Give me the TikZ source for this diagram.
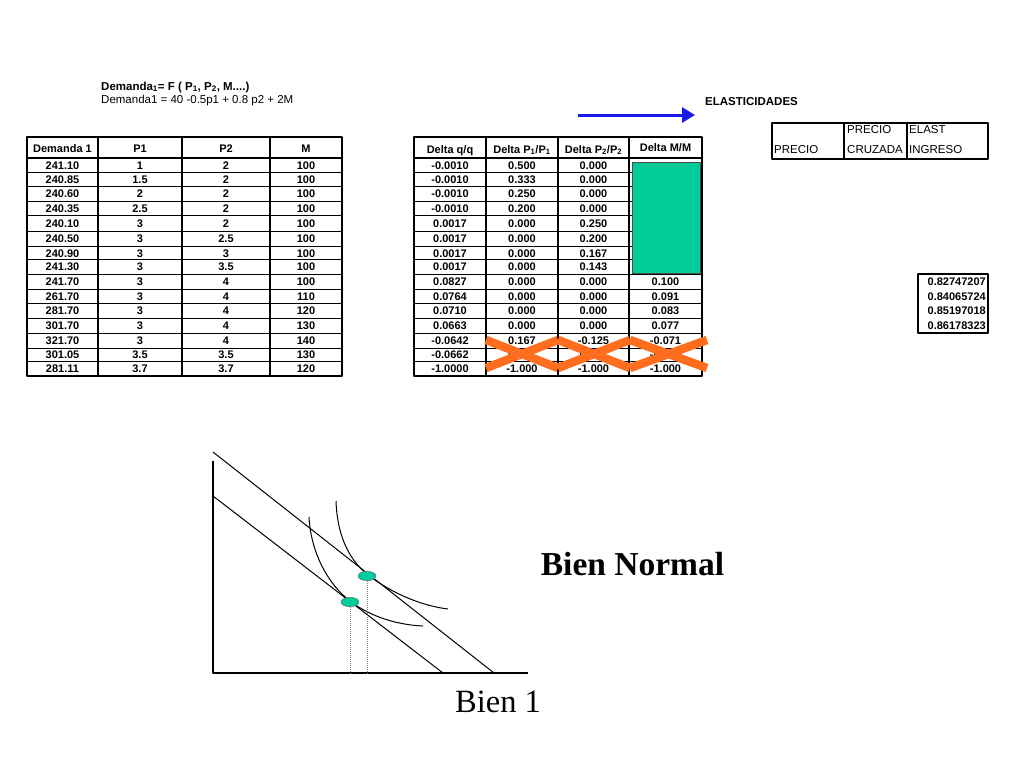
\documentclass[tikz,border=0pt]{standalone}
\usepackage{fontspec}
\setmainfont{Liberation Serif}
\setsansfont{Liberation Sans}
\usetikzlibrary{arrows.meta,shapes.geometric}
\definecolor{verde}{RGB}{0,204,153}
\definecolor{naranja}{RGB}{255,110,30}
\definecolor{azul}{RGB}{25,25,235}
\begin{document}
\begin{tikzpicture}[x=1pt,y=-1pt,line join=round,>=Triangle]
\tikzset{celda/.style={font=\sffamily\bfseries\fontsize{11}{12}\selectfont,inner sep=0pt,anchor=base},
  plano/.style={font=\sffamily\fontsize{11.5}{12}\selectfont,inner sep=0pt,anchor=base west},
  punto/.style={ellipse,draw=black!60,fill=verde,minimum width=18pt,minimum height=9.5pt,inner sep=0pt}}
\useasboundingbox (0,0) rectangle (1024,768);
% encabezado
\node[plano,font=\sffamily\bfseries\fontsize{11.5}{12}\selectfont] (titulo) at (101,90) {Demanda\textsubscript{1}= F ( P\textsubscript{1}, P\textsubscript{2}, M....)};
\node[plano] (ecuacion) at (101,103.5) {Demanda1 = 40 -0.5p1 + 0.8 p2 + 2M};
\node[plano,font=\sffamily\bfseries\fontsize{11.5}{12}\selectfont] (elast) at (705,105) {ELASTICIDADES};
\draw[azul,line width=3pt,-{Triangle[length=13pt,width=15pt]}] (578,115) -- (695,115);
% tablas
\draw[line width=1.6pt] (27,137) rectangle (342,376) (27,158) -- (342,158);
\draw[line width=1.6pt] (414,137) rectangle (702,376) (414,158) -- (702,158);
\foreach \x in {98,182,270} \draw[line width=1.2pt] (\x,137) -- (\x,376);
\foreach \x in {486,558,629} \draw[line width=1.2pt] (\x,137) -- (\x,376);
\node[celda] (hdem) at (62.5,152) {Demanda 1};
\node[celda] (hpa) at (140,152) {P1};
\node[celda] (hpb) at (226,152) {P2};
\node[celda] (hm) at (306,152) {M};
\node[celda] (hdq) at (450,153) {Delta q/q};
\node[celda] (hdpa) at (522,153) {Delta P\textsubscript{1}/P\textsubscript{1}};
\node[celda] (hdpb) at (593.5,153) {Delta P\textsubscript{2}/P\textsubscript{2}};
\node[celda] (hdm) at (665.5,151) {Delta M/M};
\foreach \yc/\yb/\d/\pa/\pb/\m/\dq/\dpa/\dpb/\dm [count=\i] in {
  165/172/241.10/1/2/100/-0.0010/0.500/0.000/{},
  179/186/240.85/1.5/2/100/-0.0010/0.333/0.000/{},
  193.5/201/240.60/2/2/100/-0.0010/0.250/0.000/{},
  208/215.5/240.35/2.5/2/100/-0.0010/0.200/0.000/{},
  223/231/240.10/3/2/100/0.0017/0.000/0.250/{},
  238.5/246/240.50/3/2.5/100/0.0017/0.000/0.200/{},
  253/259.5/240.90/3/3/100/0.0017/0.000/0.167/{},
  266.75/274/241.30/3/3.5/100/0.0017/0.000/0.143/{},
  281.5/289/241.70/3/4/100/0.0827/0.000/0.000/0.100,
  296/303.5/261.70/3/4/110/0.0764/0.000/0.000/0.091,
  310.75/318/281.70/3/4/120/0.0710/0.000/0.000/0.083,
  325.5/333/301.70/3/4/130/0.0663/0.000/0.000/0.077,
  340.5/348/321.70/3/4/140/-0.0642/0.167/-0.125/-0.071,
  354.75/361.5/301.05/3.5/3.5/130/-0.0662/0.057/0.057/-0.077,
  368.75/376/281.11/3.7/3.7/120/-1.0000/-1.000/-1.000/-1.000}
{
  \draw[line width=0.9pt] (27,\yb) -- (342,\yb) (414,\yb) -- (702,\yb);
  \node[celda] (dem\i) at (62.5,\yc+4) {\d};
  \node[celda] (pa\i) at (140,\yc+4) {\pa};
  \node[celda] (pb\i) at (226,\yc+4) {\pb};
  \node[celda] (m\i) at (306,\yc+4) {\m};
  \node[celda] (dq\i) at (450,\yc+4) {\dq};
  \node[celda] (dpa\i) at (522,\yc+4) {\dpa};
  \node[celda] (dpb\i) at (593.5,\yc+4) {\dpb};
  \node[celda] (dm\i) at (665.5,\yc+4) {\dm};
}
\draw[fill=verde,draw=black!70,line width=0.8pt] (632,162) rectangle (700,273);
\foreach \xa/\xb in {486/558,558/630,630/707}
  \draw[naranja,line width=8.5pt] (\xa,340) -- (\xb,368) (\xa,368) -- (\xb,340);
% elasticidades
\draw[line width=1.6pt] (772,123) rectangle (988,159);
\draw[line width=1.2pt] (844,123) -- (844,159) (907,123) -- (907,159);
\node[plano] (precio) at (774,153) {PRECIO};
\node[plano] (precioc) at (847,133) {PRECIO};
\node[plano] (cruzada) at (847,153) {CRUZADA};
\node[plano] (elastc) at (909,133) {ELAST};
\node[plano] (ingreso) at (909,153) {INGRESO};
\draw[line width=1.6pt] (918,274) rectangle (988,333);
\foreach \yc/\v [count=\i] in {281.5/0.82747207,296/0.84065724,310.75/0.85197018,325.5/0.86178323}
  \node[celda,anchor=base east] (ei\i) at (986,\yc+4) {\v};
% grafico
\coordinate (o) at (213,673);
\draw[line width=1.2pt] (213,461) -- (o) -- (528,673);
\draw[line width=1pt] (213,452) -- (494,673);
\draw[line width=1pt] (213,496) -- (443,673);
\draw[line width=1pt] (336,501) .. controls (337,532) and (347,558) .. (367,574)
  .. controls (392,594) and (423,606) .. (448,609);
\draw[line width=1pt] (309,517) .. controls (311,555) and (330,586) .. (350,601)
  .. controls (372,618) and (400,625) .. (423,626);
\node[punto] (e1) at (367,576) {};
\node[punto] (e2) at (350,602) {};
\draw[gray,densely dotted,line width=1pt] (e1.south) -- (e1 |- o);
\draw[gray,densely dotted,line width=1pt] (e2.south) -- (e2 |- o);
\node[font=\bfseries\fontsize{33.5}{36}\selectfont,inner sep=0pt,anchor=base] (normal) at (632.5,575) {Bien Normal};
\node[font=\fontsize{32.5}{36}\selectfont,inner sep=0pt,anchor=base west] (bien) at (455,712.5) {Bien 1};
\end{tikzpicture}
\end{document}
